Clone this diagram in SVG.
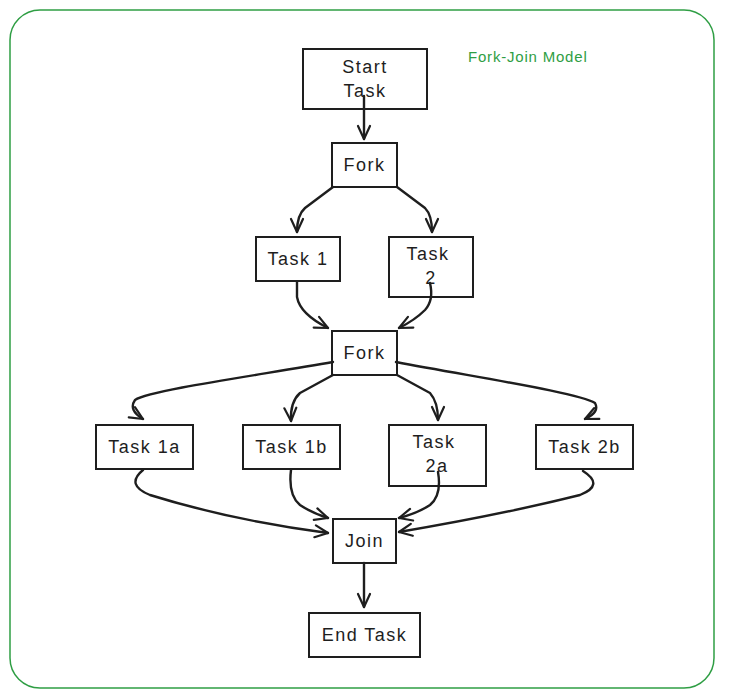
<svg xmlns="http://www.w3.org/2000/svg" width="738" height="698" viewBox="0 0 738 698">
<style>
.box{fill:#fff;stroke:#1e1e1e;stroke-width:2}
.lbl{font-family:"Liberation Sans",Arial,sans-serif;font-size:18px;letter-spacing:1.5px;fill:#1e1e1e;text-anchor:middle;dominant-baseline:central}
.edge{fill:none;stroke:#1e1e1e;stroke-width:2.4;stroke-linecap:round;stroke-linejoin:round;marker-end:url(#ah)}
.title{font-family:"Liberation Sans",Arial,sans-serif;font-size:15px;letter-spacing:0.8px;fill:#2f9e44;dominant-baseline:central}
</style>
<defs>
<marker id="ah" viewBox="-15 -8 17 16" refX="0" refY="0" markerWidth="17" markerHeight="16" markerUnits="userSpaceOnUse" orient="auto">
<path d="M-13,-6 L0,0 L-13,6" fill="none" stroke="#1e1e1e" stroke-width="2.2" stroke-linecap="round" stroke-linejoin="round"/>
</marker>
</defs>
<rect x="0" y="0" width="738" height="698" fill="#fff"/>
<rect id="frame" x="10" y="10" width="704" height="678" rx="30" fill="none" stroke="#2f9e44" stroke-width="1.5"/>
<text class="title" x="468" y="56">Fork-Join Model</text>

<g id="start"><rect class="box" x="303" y="49" width="124" height="60"/><text class="lbl" x="365" y="67">Start</text><text class="lbl" x="365" y="91">Task</text></g>
<g id="fork1"><rect class="box" x="332" y="143" width="65" height="44"/><text class="lbl" x="364.5" y="165">Fork</text></g>
<g id="task1"><rect class="box" x="256" y="237" width="84" height="44"/><text class="lbl" x="298" y="259">Task 1</text></g>
<g id="task2"><rect class="box" x="389" y="237" width="84" height="60"/><text class="lbl" x="428" y="254">Task</text><text class="lbl" x="431" y="278">2</text></g>
<g id="fork2"><rect class="box" x="332" y="331" width="65" height="44"/><text class="lbl" x="364.5" y="353">Fork</text></g>
<g id="task1a"><rect class="box" x="96" y="425" width="97" height="44"/><text class="lbl" x="144.5" y="447">Task 1a</text></g>
<g id="task1b"><rect class="box" x="243" y="425" width="97" height="44"/><text class="lbl" x="291.5" y="447">Task 1b</text></g>
<g id="task2a"><rect class="box" x="389" y="425" width="97" height="61"/><text class="lbl" x="434" y="442">Task</text><text class="lbl" x="437" y="466">2a</text></g>
<g id="task2b"><rect class="box" x="536" y="425" width="97" height="44"/><text class="lbl" x="584.5" y="447">Task 2b</text></g>
<g id="join"><rect class="box" x="333" y="519" width="63" height="44"/><text class="lbl" x="364.5" y="541">Join</text></g>
<g id="end"><rect class="box" x="309" y="613" width="111" height="44"/><text class="lbl" x="364.5" y="635">End Task</text></g>

<g id="connectors">
<path class="edge" d="M364,96 L364,139"/>
<path class="edge" d="M333,187 L305,208 Q297,215 297,232"/>
<path class="edge" d="M397,187 L425,208 Q432,215 432,232"/>
<path class="edge" d="M297,282 L297,297 Q300,314 328,328"/>
<path class="edge" d="M430,283 Q434,300 425,310 Q415,320 399,328"/>
<path class="edge" d="M333,362 C260,375 150,390 135,400 Q128,410 143,419"/>
<path class="edge" d="M333,375 L300,393 Q290,402 291,421"/>
<path class="edge" d="M397,375 L430,393 Q438,402 438,420"/>
<path class="edge" d="M396,362 C480,378 580,393 595,403 Q600,412 585,419"/>
<path class="edge" d="M143,470 Q125,485 150,495 Q230,520 328,533"/>
<path class="edge" d="M291,470 Q288,495 300,505 Q312,513 328,518"/>
<path class="edge" d="M438,472 Q442,495 430,505 Q418,513 399,518"/>
<path class="edge" d="M583,471 Q605,485 580,495 Q500,515 399,532"/>
<path class="edge" d="M364,563 L364,607"/>
</g>
</svg>
